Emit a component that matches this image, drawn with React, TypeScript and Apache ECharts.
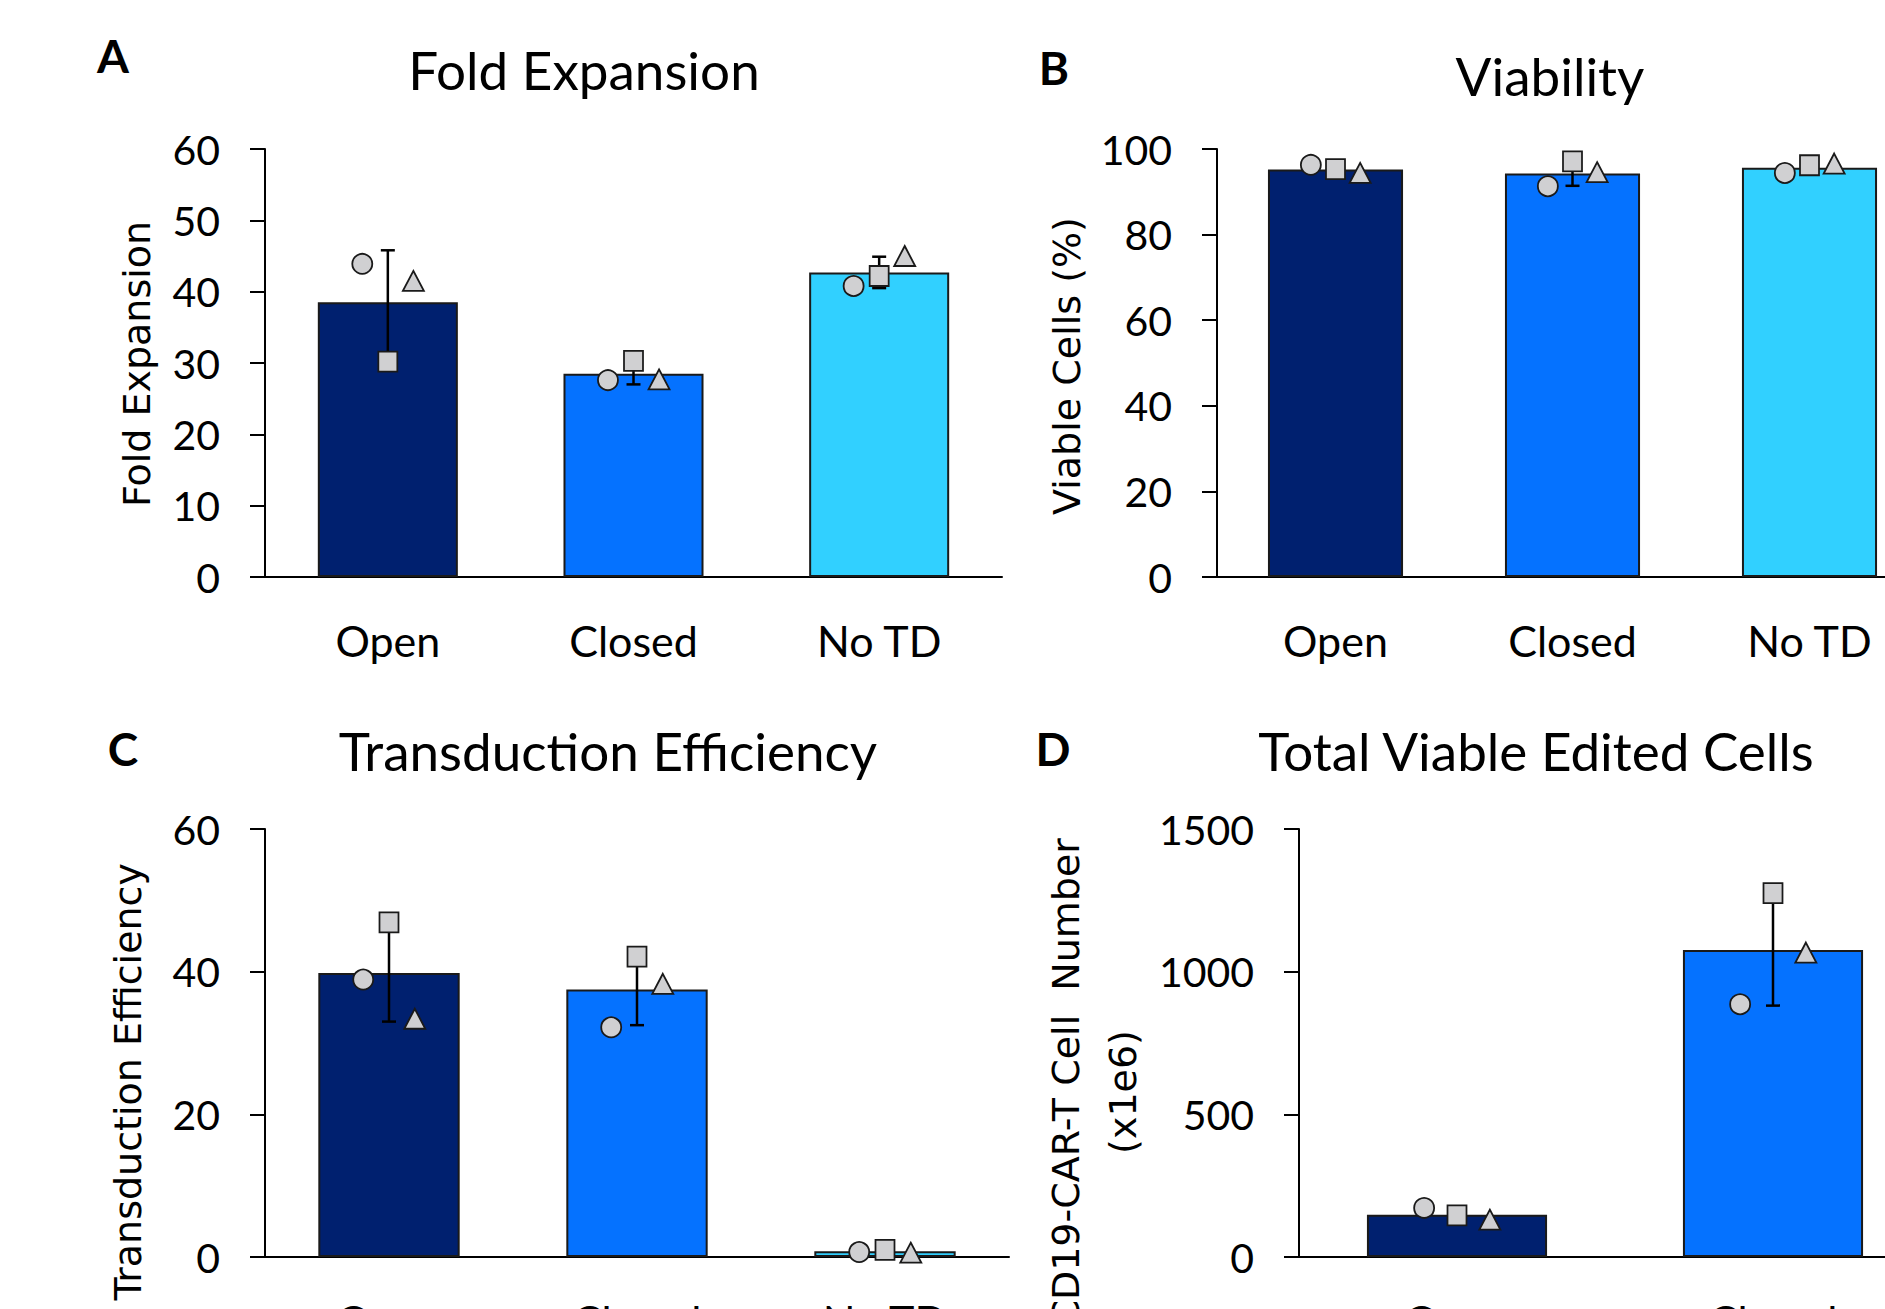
import React, { useEffect, useRef } from 'react';
import * as echarts from 'echarts';

const categories = ['Open', 'Closed', 'No TD'];

// Panel A: Fold Expansion
const foldBars = [38.5, 28.5, 42.7];
const foldErr = [7.3, 1.5, 2.2];
const foldCircle = [43.9, 27.6, 40.8];
const foldSquare = [30.2, 30.3, 42.2];
const foldTriangle = [41.5, 27.7, 45.0];
const foldTicks = [0, 10, 20, 30, 40, 50, 60];

// Panel B: Viability
const viaBars = [95.2, 94.3, 95.6];
const viaErr = [0.9, 2.9, 1.1];
const viaCircle = [96.3, 91.3, 94.4];
const viaSquare = [95.3, 97.1, 96.2];
const viaTriangle = [94.4, 94.6, 96.6];
const viaTicks = [0, 20, 40, 60, 80, 100];

// Panel C: Transduction Efficiency
const tdBars = [39.8, 37.5, 0.8];
const tdErr = [6.8, 5.0, 0.2];
const tdCircle = [38.9, 32.2, 0.7];
const tdSquare = [46.9, 42.1, 1.0];
const tdTriangle = [33.4, 38.3, 0.6];
const tdTicks = [0, 20, 40, 60];

// Panel D: Total Viable Edited Cells
const cellBars = [148, 1076, null];
const cellErr = [20, 195, null];
const cellCircle = [172, 886, null];
const cellSquare = [146, 1275, null];
const cellTriangle = [131, 1067, null];
const cellTicks = [0, 500, 1000, 1500];

const barColors = ['#00206F', '#0572FF', '#31D0FF'];

const TICK_FONT = 'Lato';
const LABEL_FONT = 'DejaVu Sans';

type Panel = {
  grid: { left: number; top: number; width: number; height: number };
  ticks: number[];
  bars: (number | null)[];
  err: (number | null)[];
  circle: (number | null)[];
  square: (number | null)[];
  triangle: (number | null)[];
};

const panels: Panel[] = [
  { grid: { left: 265, top: 149, width: 737, height: 428 }, ticks: foldTicks, bars: foldBars, err: foldErr, circle: foldCircle, square: foldSquare, triangle: foldTriangle },
  { grid: { left: 1217, top: 149, width: 711, height: 428 }, ticks: viaTicks, bars: viaBars, err: viaErr, circle: viaCircle, square: viaSquare, triangle: viaTriangle },
  { grid: { left: 265, top: 829, width: 744, height: 428 }, ticks: tdTicks, bars: tdBars, err: tdErr, circle: tdCircle, square: tdSquare, triangle: tdTriangle },
  { grid: { left: 1299, top: 829, width: 948, height: 428 }, ticks: cellTicks, bars: cellBars, err: cellErr, circle: cellCircle, square: cellSquare, triangle: cellTriangle },
];

function buildOption() {
  const grids: any[] = [];
  const xAxes: any[] = [];
  const yAxes: any[] = [];
  const series: any[] = [];

  panels.forEach((p, i) => {
    grids.push({ ...p.grid, containLabel: false });
    xAxes.push({
      type: 'category',
      gridIndex: i,
      data: categories,
      axisLine: { show: true, lineStyle: { color: '#000', width: 2 } },
      axisTick: { show: false },
      axisLabel: { color: '#000', fontFamily: TICK_FONT, fontSize: 43, margin: 42, interval: 0 },
      splitLine: { show: false },
    });
    const interval = p.ticks[1] - p.ticks[0];
    yAxes.push({
      type: 'value',
      gridIndex: i,
      min: p.ticks[0],
      max: p.ticks[p.ticks.length - 1],
      interval,
      axisLine: { show: true, lineStyle: { color: '#000', width: 2 } },
      axisTick: { show: true, inside: false, length: 15, lineStyle: { color: '#000', width: 2 } },
      axisLabel: {
        color: '#000',
        fontFamily: TICK_FONT,
        fontSize: 41,
        margin: 45,
        formatter: (v: number) => String(v),
      },
      splitLine: { show: false },
    });

    const spacing = p.grid.width / categories.length;
    const off = 0.104 * spacing;

    series.push({
      type: 'bar',
      xAxisIndex: i,
      yAxisIndex: i,
      barWidth: '57%',
      z: 2,
      data: p.bars.map((v, k) => ({
        value: v,
        itemStyle: { color: barColors[k], borderColor: '#1a1a1a', borderWidth: 2 },
      })),
    });

    series.push({
      type: 'custom',
      xAxisIndex: i,
      yAxisIndex: i,
      z: 3,
      renderItem: (params: any, api: any) => {
        const x = api.value(0);
        const m = api.value(1);
        const s = api.value(2);
        if (m == null || s == null || isNaN(m) || isNaN(s)) return null;
        const top = api.coord([x, m + s]);
        const bot = api.coord([x, m - s]);
        const w = 7;
        const st = { stroke: '#000', lineWidth: 2.5 };
        return {
          type: 'group',
          children: [
            { type: 'line', shape: { x1: top[0], y1: top[1], x2: bot[0], y2: bot[1] }, style: st },
            { type: 'line', shape: { x1: top[0] - w, y1: top[1], x2: top[0] + w, y2: top[1] }, style: st },
            { type: 'line', shape: { x1: bot[0] - w, y1: bot[1], x2: bot[0] + w, y2: bot[1] }, style: st },
          ],
        };
      },
      data: p.bars
        .map((v, k) => (v == null || p.err[k] == null ? null : [k, v, p.err[k]]))
        .filter((d) => d !== null),
    });

    const markerStyle = { color: '#D0D0D2', borderColor: '#1a1a1a', borderWidth: 1.8, opacity: 1 };
    const shapes: [string, (number | null)[], number, any][] = [
      ['circle', p.circle, -off, 20],
      ['rect', p.square, 0, [19, 20]],
      ['triangle', p.triangle, off, [21, 20]],
    ];
    shapes.forEach(([sym, vals, dx, size]) => {
      series.push({
        type: 'scatter',
        xAxisIndex: i,
        yAxisIndex: i,
        z: 4,
        symbol: sym,
        symbolSize: size,
        symbolOffset: [dx, 0],
        itemStyle: markerStyle,
        emphasis: { disabled: true },
        data: vals.map((v, k) => (v == null ? null : [k, v])).filter((d) => d !== null),
      });
    });
  });

  const titleStyle = (text: string) => ({
    text,
    fontFamily: TICK_FONT,
    fontSize: 53,
    fill: '#000',
    align: 'center',
    verticalAlign: 'middle',
  });
  const letterStyle = (text: string) => ({
    text,
    fontFamily: TICK_FONT,
    fontWeight: 'bold',
    fontSize: 46,
    fill: '#000',
    align: 'center',
    verticalAlign: 'middle',
  });
  const yLabel = (text: string, align: string) => ({
    text,
    fontFamily: LABEL_FONT,
    fontSize: 38,
    fill: '#000',
    align,
    verticalAlign: 'middle',
  });

  const graphic = [
    { type: 'text', x: 113, y: 55, style: letterStyle('A') },
    { type: 'text', x: 1054, y: 67, style: letterStyle('B') },
    { type: 'text', x: 123, y: 748, style: letterStyle('C') },
    { type: 'text', x: 1053, y: 748, style: letterStyle('D') },
    { type: 'text', x: 584, y: 69, style: titleStyle('Fold Expansion') },
    { type: 'text', x: 1550, y: 75, style: titleStyle('Viability') },
    { type: 'text', x: 608, y: 750, style: titleStyle('Transduction Efficiency') },
    { type: 'text', x: 1536, y: 750, style: titleStyle('Total Viable Edited Cells') },
    { type: 'text', x: 137, y: 364, rotation: Math.PI / 2, style: yLabel('Fold Expansion', 'center') },
    { type: 'text', x: 1067, y: 366, rotation: Math.PI / 2, style: yLabel('Viable Cells (%)', 'center') },
    { type: 'text', x: 128, y: 863, rotation: Math.PI / 2, style: yLabel('Transduction Efficiency', 'right') },
    { type: 'text', x: 1066, y: 838, rotation: Math.PI / 2, style: yLabel('CD19-CAR-T Cell  Number', 'right') },
    { type: 'text', x: 1123, y: 1092, rotation: Math.PI / 2, style: yLabel('(x1e6)', 'center') },
  ];

  return {
    animation: false,
    backgroundColor: '#ffffff',
    grid: grids,
    xAxis: xAxes,
    yAxis: yAxes,
    series,
    graphic,
  };
}

export default function App() {
  const ref = useRef<HTMLDivElement>(null);
  useEffect(() => {
    if (!ref.current) return;
    const chart = echarts.init(ref.current, null, { renderer: 'svg' });
    chart.setOption(buildOption() as any);
    return () => {
      chart.dispose();
    };
  }, []);
  return (
    <div
      style={{ position: 'fixed', left: 0, top: 0, width: 1885, height: 1309, background: '#fff', overflow: 'hidden' }}
    >
      <div ref={ref} style={{ position: 'absolute', left: 0, top: 0, width: 2300, height: 1600 }} />
    </div>
  );
}
